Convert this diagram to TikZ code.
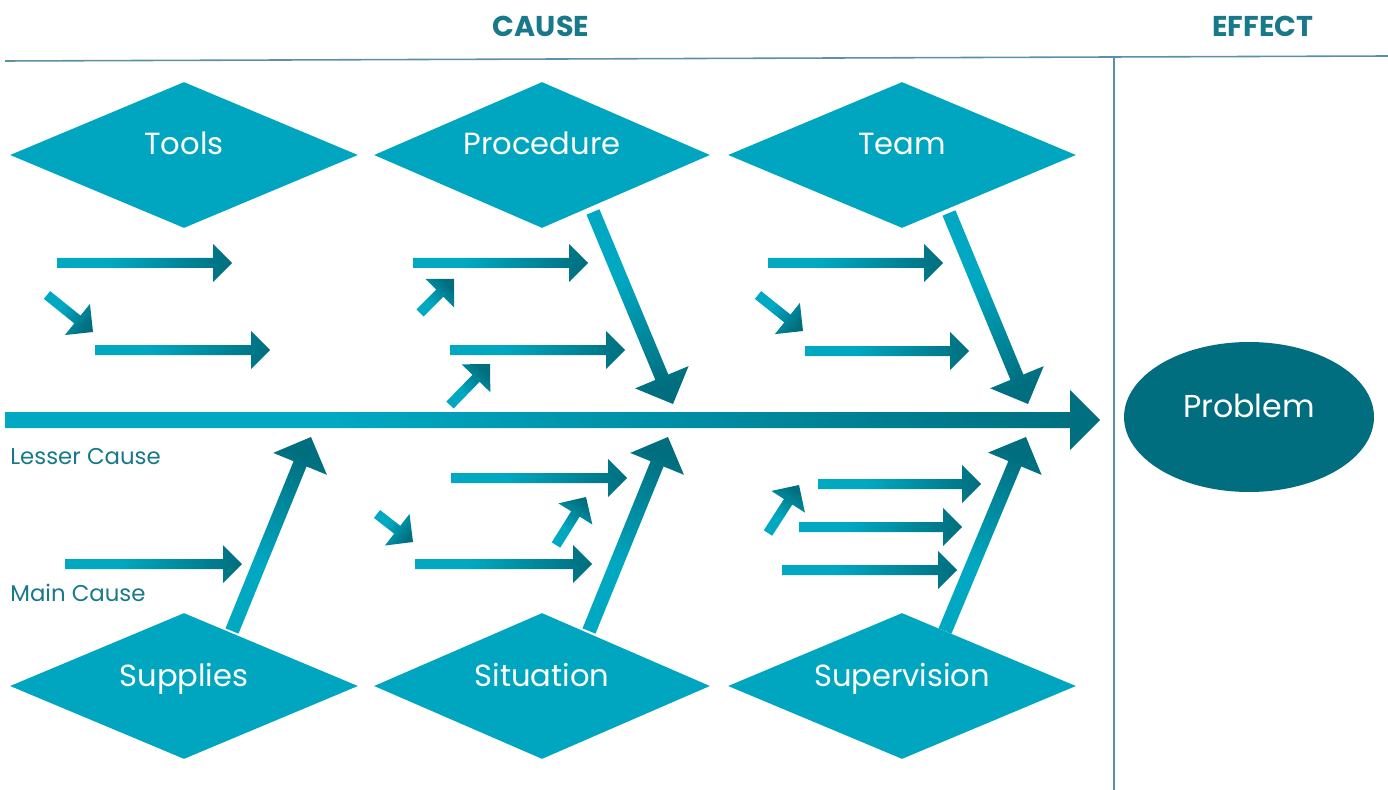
\documentclass[tikz,border=0pt]{standalone}
\usepackage{fontspec}
\setmainfont{Poppins}
\usetikzlibrary{shapes.geometric,calc,positioning}

\definecolor{fishlight}{HTML}{00A8C2}
\definecolor{fishdark}{HTML}{006E7E}
\definecolor{boxfill}{HTML}{00A6BF}
\definecolor{headtext}{HTML}{17798A}
\definecolor{rulecol}{HTML}{5C8FA8}

\pgfdeclarehorizontalshading{fishshade}{100bp}{color(0bp)=(fishlight); color(25bp)=(fishlight); color(40bp)=(fishlight); color(75bp)=(fishdark); color(100bp)=(fishdark)}

% shaded arrow from #1 to #2, half shaft #3, half head #4
\newcommand{\fisharrow}[4]{%
  \pgfmathanglebetweenpoints{\pgfpointanchor{#1}{center}}{\pgfpointanchor{#2}{center}}%
  \let\fishangle\pgfmathresult
  \coordinate (fishbase) at ($(#2)!#4!(#1)$);
  \shade[shading=fishshade, shading angle=\fishangle]
    ($(#1)!#3!90:(#2)$) -- ($(fishbase)!#3!90:(#2)$) -- ($(fishbase)!#4!90:(#2)$) -- (#2)
    -- ($(fishbase)!#4!-90:(#2)$) -- ($(fishbase)!#3!-90:(#2)$) -- ($(#1)!#3!-90:(#2)$) -- cycle;
}

\begin{document}
\begin{tikzpicture}[x=0.02cm, y=-0.02cm,
    cause box/.style={diamond, fill=boxfill, inner sep=0pt, aspect=2.4, minimum height=2.92cm},
    box text/.style={text=white, font=\fontsize{17.4}{20}\selectfont, inner sep=0pt, anchor=base},
    head text/.style={text=headtext, font=\bfseries\fontsize{16.3}{20}\selectfont, inner sep=0pt, anchor=base},
    side text/.style={text=headtext, font=\fontsize{13}{16}\selectfont, inner sep=0pt, anchor=base west}]
    \useasboundingbox (0,0) rectangle (1388,790);

    % header
    \node[head text] (cause) at (541,37) {CAUSE};
    \node[head text] (effect) at (1263,37) {EFFECT};
    \draw[rulecol, line width=0.9pt] (5,61) -- (1388,56);
    \draw[rulecol, line width=0.6pt] (1114,57) -- (1114,790);

    % causes
    \node[cause box, minimum width=6.96cm] (tools) at (184,155) {};
    \node[cause box, minimum width=6.72cm] (procedure) at (542,155) {};
    \node[cause box, minimum width=6.96cm] (team) at (902,155) {};
    \node[cause box, minimum width=6.96cm] (supplies) at (184,686) {};
    \node[cause box, minimum width=6.72cm] (situation) at (542,686) {};
    \node[cause box, minimum width=6.96cm] (supervision) at (902,686) {};
    \node[box text] (tools-t) at (tools.center) {Tools};
    \node[box text] (procedure-t) at (procedure.center) {Procedure};
    \node[box text] (team-t) at (team.center) {Team};
    \node[box text] (supplies-t) at (supplies.center) {Supplies};
    \node[box text] (situation-t) at (situation.center) {Situation};
    \node[box text] (supervision-t) at (supervision.center) {Supervision};

    % effect
    \node[ellipse, fill=fishdark, inner sep=0pt, minimum width=5cm, minimum height=3cm] (problem) at (1249,417) {};
    \node[box text, font=\fontsize{18}{21}\selectfont] (problem-t) at (problem.center) {Problem};

    \node[side text] (lesser) at (10,464) {Lesser Cause};
    \node[side text] (main) at (10,601) {Main Cause};

    % spine
    \coordinate (spine-s) at (5,420);
    \coordinate (spine-e) at (1100,420);
    \fisharrow{spine-s}{spine-e}{0.16cm}{0.6cm}

    % main causes
    \foreach \n/\xa/\ya/\xb/\yb in {p0/593/212/673/404, m0/949/213/1028/404,
        u0/232/631/311/437, s0/589/631/668/437, v0/945/631/1026/437} {
        \coordinate (\n-s) at (\xa,\ya);
        \coordinate (\n-e) at (\xb,\yb);
        \fisharrow{\n-s}{\n-e}{0.14cm}{0.58cm}
    }

    % lesser causes
    \foreach \n/\xa/\xb/\y in {t1/57/232/263, t2/95/270/350, p1/413/588/263, p2/450/625/350,
        m1/768/943/263, m2/805/969/351, u1/65/242/564, s1/451/627/478, s2/415/592/564,
        v1/818/981/484, v2/799/962/527, v3/782/957/570} {
        \coordinate (\n-s) at (\xa,\y);
        \coordinate (\n-e) at (\xb,\y);
        \fisharrow{\n-s}{\n-e}{0.1cm}{0.38cm}
    }
    \foreach \n/\xa/\ya/\xb/\yb in {t3/47/295/93/332, p3/420/313/454/279, p4/450/405/490/364,
        m3/758/295/803/331, s3/377/514/413/542, s4/556/545/586/497, v4/768/533/799/485} {
        \coordinate (\n-s) at (\xa,\ya);
        \coordinate (\n-e) at (\xb,\yb);
        \fisharrow{\n-s}{\n-e}{0.1cm}{0.4cm}
    }
\end{tikzpicture}
\end{document}
